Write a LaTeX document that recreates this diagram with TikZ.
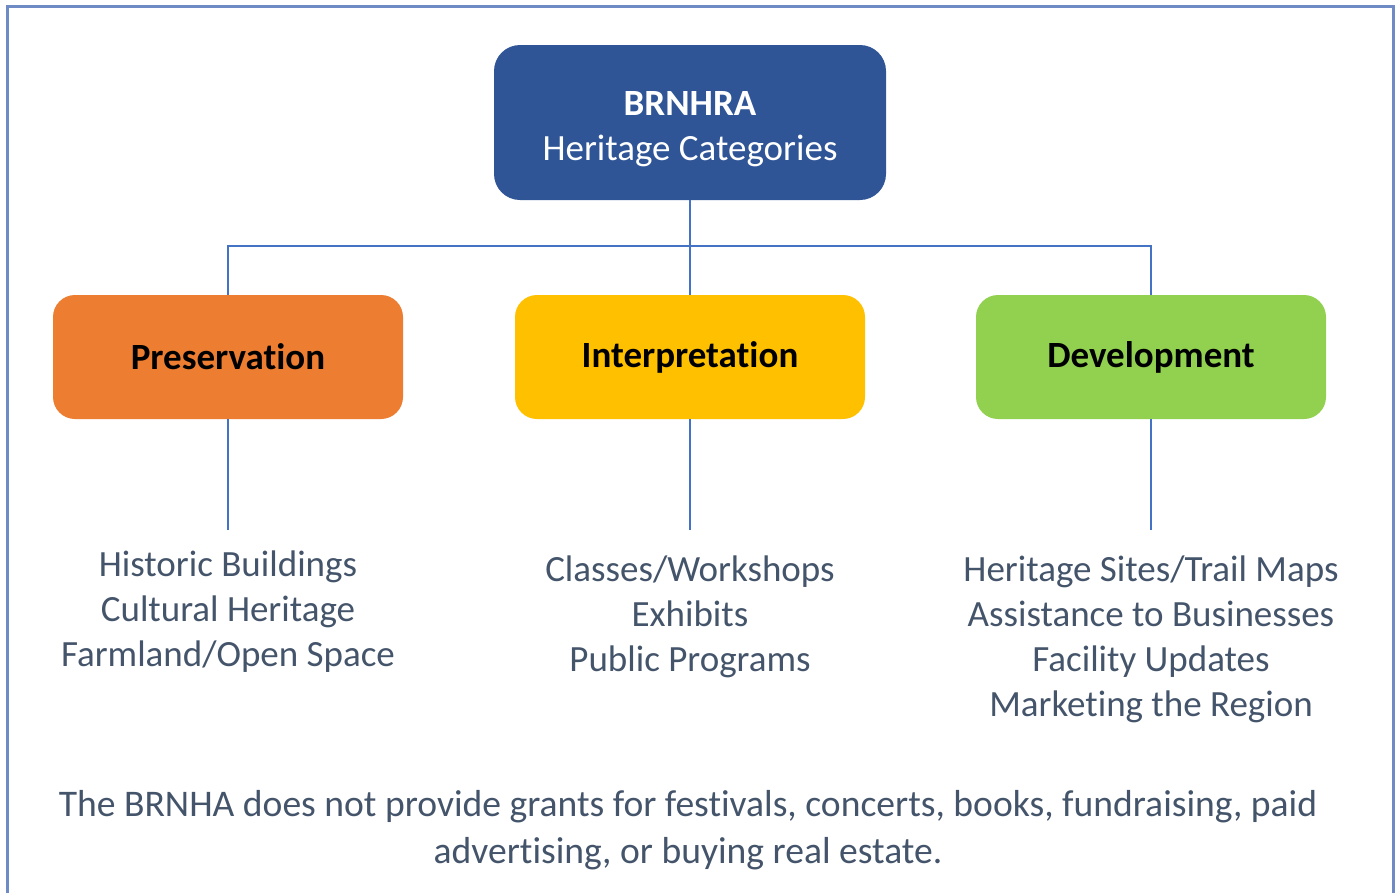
\documentclass[tikz,border=0pt]{standalone}
\usepackage{fontspec}
\setmainfont{Carlito}[Ligatures=NoCommon]
\usepackage{tikz}
\definecolor{cabeca}{HTML}{2F5597}
\definecolor{laranja}{HTML}{ED7D31}
\definecolor{amarelo}{HTML}{FFC000}
\definecolor{verde}{HTML}{92D050}
\definecolor{linhaazul}{HTML}{4472C4}
\definecolor{moldura}{HTML}{6F8BC6}
\definecolor{textocinza}{HTML}{44546A}
\begin{document}
\begin{tikzpicture}[x=1pt,y=-1pt]
\tikzstyle{caixa}=[rectangle, rounded corners=22pt, minimum width=350pt, minimum height=124pt, font=\fontsize{37}{45}\selectfont\bfseries, align=center]
\tikzstyle{lista}=[align=center, text=textocinza, font=\fontsize{37}{45}\selectfont, inner sep=0pt, anchor=north]
\tikzstyle{ligacao}=[draw=linhaazul, line width=2pt]
 \useasboundingbox (0,0) rectangle (1397,892);
 \clip (0,0) rectangle (1397,892);
 \draw[moldura, line width=3pt] (7,6) rectangle (1393,900);
 % caixa de topo
 \node[caixa, fill=cabeca, text=white, minimum width=392pt, minimum height=155pt, rounded corners=26pt] (topo) at (690,122.5)
  {\rule{0pt}{37pt}BRNHRA\\\mdseries Heritage Categories};
 % categorias
 \node[caixa, fill=laranja] (pres) at (228,357) {Preservation};
 \node[caixa, fill=amarelo] (interp) at (690,357) {Interpretation};
 \node[caixa, fill=verde] (dev) at (1151,357) {Development};
 \foreach \c in {pres,interp,dev}
  \draw[ligacao] (topo.south) -- ++(0,46) -| (\c.north);
 % listas
 \node[lista] (preslista) at (228,551) {Historic Buildings\\Cultural Heritage\\Farmland/Open Space};
 \node[lista] (interplista) at (690,556) {Classes/Workshops\\Exhibits\\Public Programs};
 \node[lista] (devlista) at (1151,556) {Heritage Sites/Trail Maps\\Assistance to Businesses\\Facility Updates\\Marketing the Region};
 \draw[ligacao] (pres.south) -- ([yshift=21pt]preslista.north);
 \draw[ligacao] (interp.south) -- ([yshift=26pt]interplista.north);
 \draw[ligacao] (dev.south) -- ([yshift=26pt]devlista.north);
 % nota
 \node[lista, font=\fontsize{37.6}{47}\selectfont] (nota) at (688,790)
  {The BRNHA does not provide grants for festivals, concerts, books, fundraising, paid\\advertising, or buying real estate.};
\end{tikzpicture}
\end{document}
